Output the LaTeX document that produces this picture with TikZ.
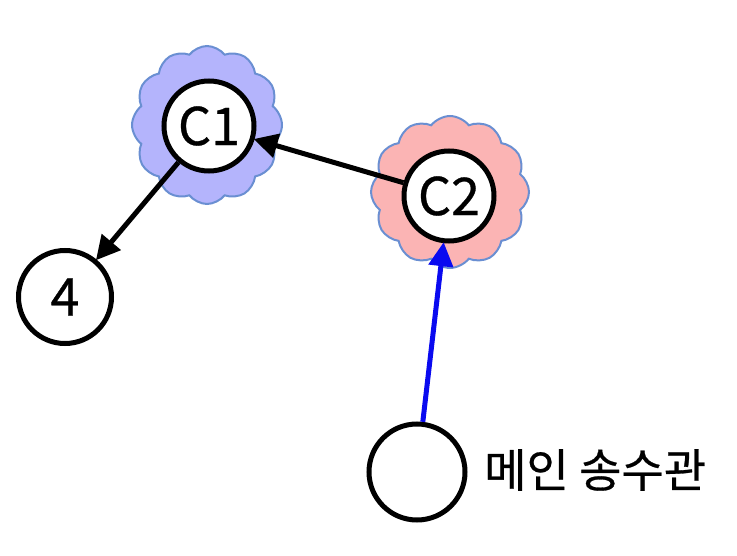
\documentclass[tikz,border=0pt]{standalone}
\usepackage{fontspec}
\setmainfont{Noto Sans CJK KR}[FakeBold=0.6]
\newfontfamily\lblfont{Noto Sans CJK KR}[FakeBold=0.6]
\usetikzlibrary{arrows.meta,shapes.symbols}
\definecolor{cloudblue}{HTML}{B4B4FC}
\definecolor{cloudpink}{HTML}{FBB4B4}
\definecolor{cloudedge}{HTML}{6A8FD2}
\definecolor{pipeblue}{HTML}{0A0AF0}
\tikzset{
  x=1pt, y=-1pt,
  pnode/.style={circle, draw=black, line width=5pt, fill=white, minimum size=90pt, inner sep=0pt, font=\lblfont\fontsize{52}{52}\selectfont},
  cloudbg/.style={cloud, cloud puffs=12, cloud puff arc=105, aspect=1, draw=cloudedge, line width=2pt, inner sep=0pt},
  flow/.style={line width=5pt, -{Triangle[length=24pt,width=24pt]}, shorten >=-1pt},
}
\begin{document}
\begin{tikzpicture}
\useasboundingbox (0,0) rectangle (737,556);
\node[cloudbg, fill=cloudblue, minimum width=150pt, minimum height=158pt] (cl1) at (207,125) {};
\node[cloudbg, fill=cloudpink, minimum width=158pt, minimum height=152pt] (cl2) at (450,192) {};
\node[pnode] (c1) at (209,126) {C1};
\node[pnode] (c2) at (449,196) {C2};
\node[pnode, minimum size=93pt] (n4) at (65,297) {4};
\node[pnode, minimum size=96pt] (m) at (417,472) {};
\node[anchor=west, font=\lblfont\fontsize{46}{46}\selectfont, inner sep=0pt] (ml) at (484,470) {메인 송수관};
\draw[flow] (c2) -- (c1);
\draw[flow] (c1) -- (n4);
\draw[flow, draw=pipeblue, fill=pipeblue] (m) -- (c2);
\end{tikzpicture}
\end{document}
